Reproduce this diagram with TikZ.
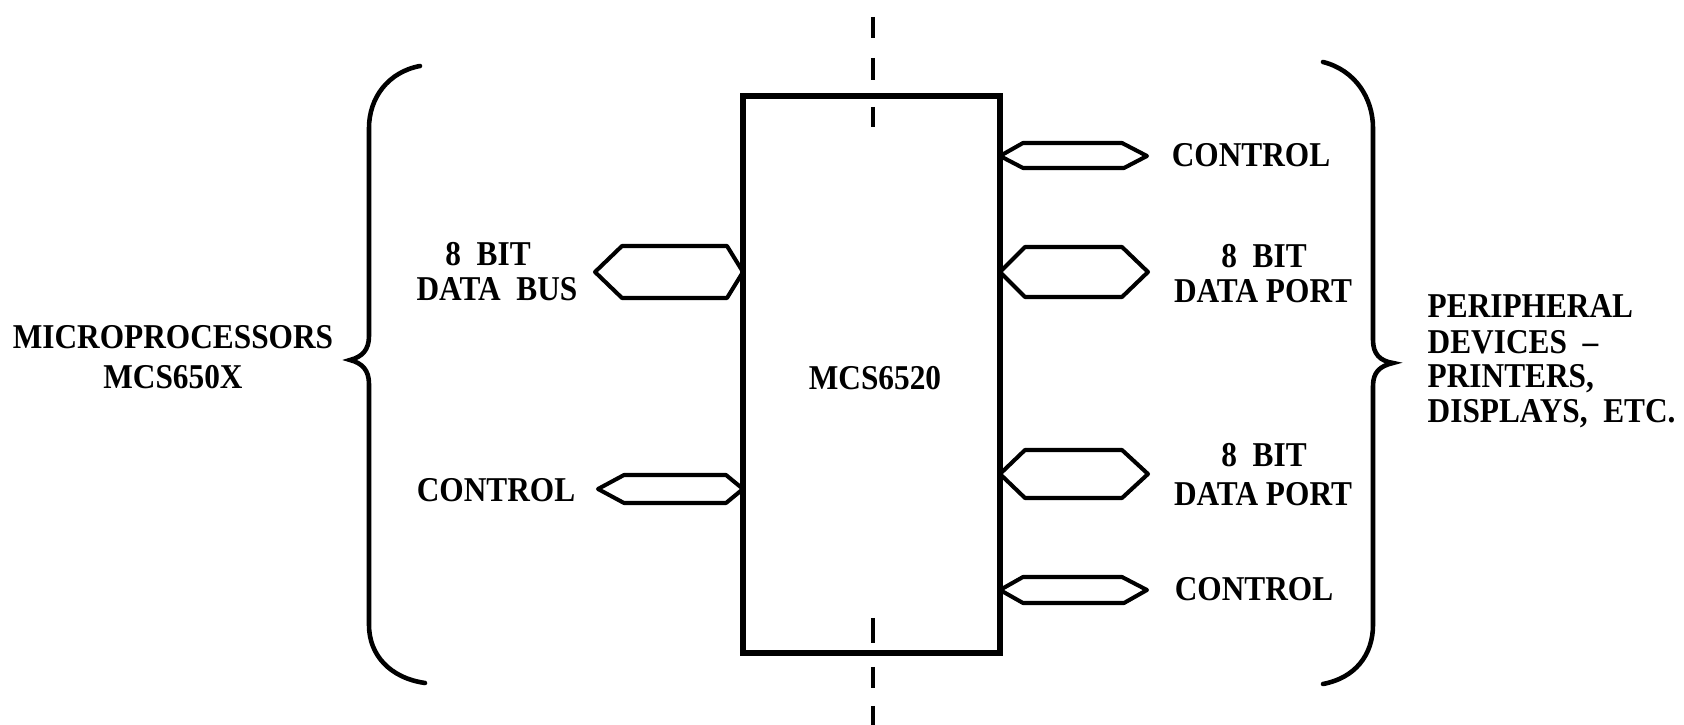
\documentclass[tikz,border=0pt]{standalone}
\usepackage{fontspec}
\setmainfont[FakeStretch=0.9]{Liberation Serif}
\begin{document}
\begin{tikzpicture}[x=0.01cm,y=-0.01cm,
  lbl/.style={font=\bfseries\fontsize{9.9}{10}\selectfont, inner sep=0pt},
  bus/.style={line width=1.15pt, line join=round},
  chipbox/.style={draw, line width=1.6pt, minimum width=2.57cm, minimum height=5.57cm, inner sep=0pt},
  brace/.style={line width=1.3pt, line cap=round},
  axisdash/.style={line width=0.9pt}]
\useasboundingbox (0,0) rectangle (1684,725);

% chip
\node[chipbox] (chip) at (871.5,374.5) {};
\node[lbl, anchor=base] (chiplbl) at (875,389.5) {MCS6520};

% centre line dashes
\foreach \a/\b in {17/38,58/80,107/127,618/643,667/688,706/725}
  \draw[axisdash] (873,\a) -- (873,\b);

% left bus symbols
\draw[bus] (743,272) -- (727,246) -- (622,246) -- (595,272) -- (622,298) -- (727,298) -- cycle;
\draw[bus] (743,489) -- (726,475) -- (624,475) -- (598,489) -- (624,503) -- (726,503) -- cycle;

% right bus symbols
\draw[bus] (1000,156) -- (1023,143) -- (1122,143) -- (1147,156) -- (1124,168) -- (1023,168) -- cycle;
\draw[bus] (1000,272) -- (1025,247) -- (1122,247) -- (1148,272) -- (1122,297) -- (1025,297) -- cycle;
\draw[bus] (1000,474) -- (1025,450) -- (1122,450) -- (1148,474) -- (1122,498) -- (1025,498) -- cycle;
\draw[bus] (1000,590) -- (1023,577) -- (1122,577) -- (1147,590) -- (1124,603) -- (1023,603) -- cycle;

% braces
\draw[brace] (420,66) .. controls (388,72) and (369,98) .. (369,128) -- (369,336)
  .. controls (369,350) and (362,357) .. (350,360)
  .. controls (362,363) and (369,370) .. (369,384) -- (369,625)
  .. controls (369,655) and (390,678) .. (425,683);
\draw[brace] (1323,62) .. controls (1355,70) and (1373,98) .. (1373,128) -- (1373,340)
  .. controls (1373,354) and (1380,361) .. (1393,363)
  .. controls (1380,366) and (1373,372) .. (1373,386) -- (1373,625)
  .. controls (1373,655) and (1355,678) .. (1323,684);

% left labels
\node[lbl, anchor=base] (micro) at (173,348.5) {MICROPROCESSORS};
\node[lbl, anchor=base] (mcs650x) at (173,388.5) {MCS650X};
\node[lbl, anchor=base] (lbit) at (488,265.5) {8~~BIT};
\node[lbl, anchor=base] (lbus) at (497,300.5) {DATA~~BUS};
\node[lbl, anchor=base] (lctl) at (496,501.5) {CONTROL};

% right labels
\node[lbl, anchor=base] (rctl1) at (1251,166.5) {CONTROL};
\node[lbl, anchor=base] (rbit1) at (1264,267.5) {8~~BIT};
\node[lbl, anchor=base] (rport1) at (1263,302.5) {DATA PORT};
\node[lbl, anchor=base] (rbit2) at (1264,466.5) {8~~BIT};
\node[lbl, anchor=base] (rport2) at (1263,505.5) {DATA PORT};
\node[lbl, anchor=base] (rctl2) at (1254,600.5) {CONTROL};

% peripheral label
\node[lbl, anchor=base west] (per1) at (1427,317.5) {PERIPHERAL};
\node[lbl, anchor=base west] (per2) at (1427,353.5) {DEVICES~~–};
\node[lbl, anchor=base west] (per3) at (1427,387.5) {PRINTERS,};
\node[lbl, anchor=base west] (per4) at (1427,422.5) {DISPLAYS,~~ETC.};
\end{tikzpicture}
\end{document}
